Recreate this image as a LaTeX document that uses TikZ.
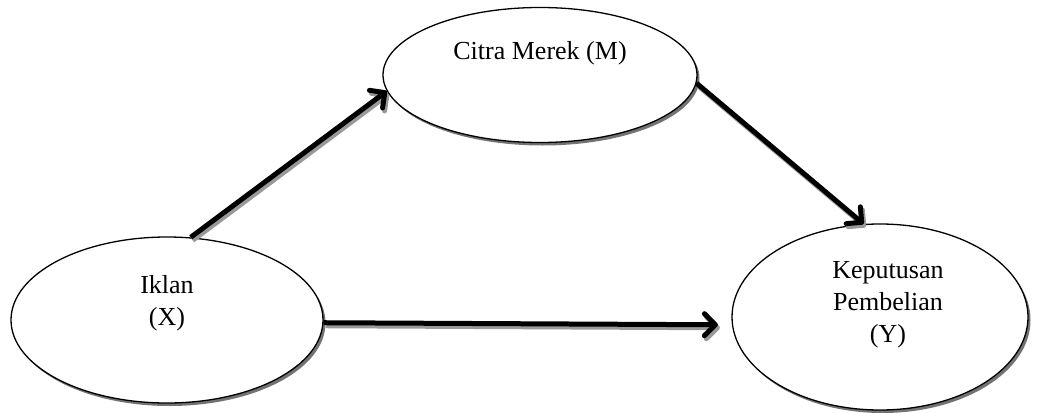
\documentclass[tikz,border=0pt]{standalone}
\usepackage{fontspec}
\setmainfont{Liberation Serif}
\usetikzlibrary{arrows.meta,shapes.geometric,shadows}
\begin{document}
\begin{tikzpicture}[x=1pt,y=-1pt,
  var/.style={ellipse, draw, line width=1.3pt, fill=white, inner sep=0pt,
    drop shadow={shadow xshift=2.5pt, shadow yshift=-3pt, fill=black!55, opacity=1}},
  lbl/.style={font=\fontsize{26}{32}\selectfont, align=center, inner sep=0pt},
  conn/.style={line width=5pt, -{Straight Barb[length=11pt,width=22pt,round]}},
  connshadow/.style={conn, draw=black!40, transform canvas={shift={(2pt,-3pt)}}}]
\useasboundingbox (0,0) rectangle (1040,412);
\node[var, minimum width=312pt, minimum height=166pt] (iklan) at (167,320) {};
\node[var, minimum width=314pt, minimum height=135pt] (citra) at (540,75) {};
\node[var, minimum width=296pt, minimum height=186pt] (kep) at (880,317) {};
\node[lbl] (tI) at (167,303) {Iklan\\(X)};
\node[lbl] (tC) at (540,53) {Citra Merek (M)};
\node[lbl] (tK) at (888,305) {Keputusan\\Pembelian\\(Y)};
\coordinate (kepin) at ([xshift=-14pt]kep.183);
\draw[connshadow] (iklan.74) -- (citra.186);
\draw[connshadow] (citra.-3) -- (kep.100);
\draw[connshadow] (iklan.-1) -- (kepin);
\draw[conn] (iklan.74) -- (citra.186);
\draw[conn] (citra.-3) -- (kep.100);
\draw[conn] (iklan.-1) -- (kepin);
\end{tikzpicture}
\end{document}
